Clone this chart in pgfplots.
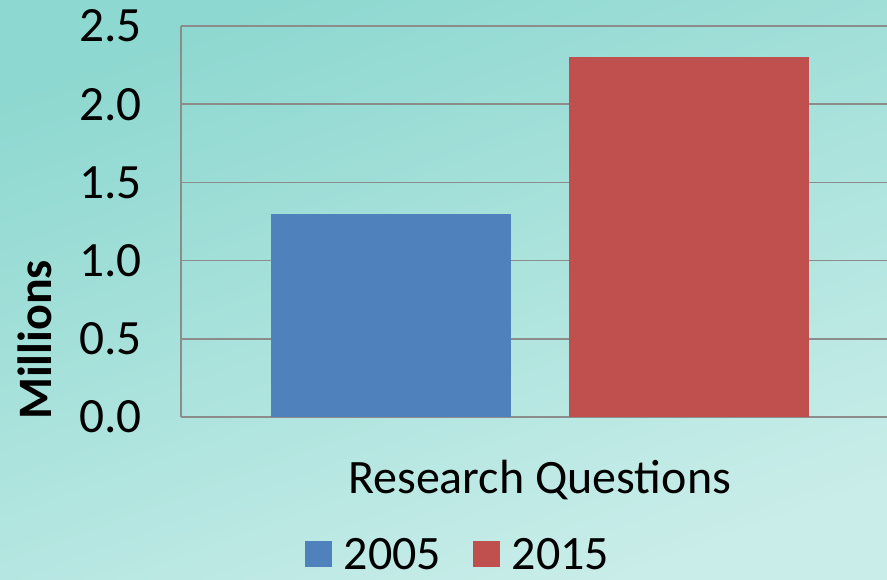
\documentclass[border=0pt]{standalone}
\usepackage{pgfplots}
\pgfplotsset{compat=1.18}
\usepackage{fontspec}
\setmainfont{Carlito}
\definecolor{bgA}{HTML}{8DD8D0}
\definecolor{bgB}{HTML}{C9EDE9}
\definecolor{gridc}{HTML}{8C8C8C}
\definecolor{cblue}{HTML}{4F81BD}
\definecolor{cred}{HTML}{C0504D}
\begin{document}
\begin{tikzpicture}
\shade[top color=bgA, bottom color=bgB, shading angle=20] (-135.75pt,-122.25pt) rectangle (529.5pt,312.75pt);
\begin{axis}[
  at={(0pt,0pt)}, anchor=origin,
  scale only axis, width=529.5pt, height=293.25pt,
  xmin=0.2941, xmax=2.6672, ymin=0, ymax=2.5,
  axis x line*=bottom, axis y line*=left,
  axis line style={-, gridc, line width=1.1pt},
  ymajorgrids, grid style={gridc, line width=1.1pt},
  xtick=\empty, ytick={0,0.5,1,1.5,2,2.5},
  major tick length=0pt,
  /pgf/number format/assume math mode=true,
  yticklabel style={/pgf/number format/.cd, fixed, fixed zerofill, precision=1, /tikz/.cd, font=\fontsize{37}{44}\selectfont, anchor=east, xshift=-26pt},
  ybar, bar width=180pt,
  legend columns=2,
  legend style={at={(0.393,-0.35)}, anchor=center, draw=none, fill=none, font=\fontsize{36}{42}\selectfont, nodes={inner ysep=0pt, text depth=0pt}, /tikz/every even column/.append style={column sep=22pt}},
  legend image code/.code={\fill[#1] (0pt,-10pt) rectangle (20pt,10pt); \path (27pt,0pt);},
]
\addplot[fill=cblue, draw=none, bar shift=0pt] coordinates {(1,1.3)};
\addplot[fill=cred, draw=none, bar shift=0pt] coordinates {(2,2.3)};
\legend{2005,2015}
\end{axis}
\node[rotate=90, font=\fontsize{36}{42}\selectfont\bfseries] at (-109.5pt,57.75pt) {Millions};
\node[font=\fontsize{36}{42}\selectfont] at (268.9pt,-47.25pt) {Research Questions};
\pgfresetboundingbox
\path (-135.75pt,-122.25pt) rectangle (529.5pt,312.75pt);
\end{tikzpicture}
\end{document}
